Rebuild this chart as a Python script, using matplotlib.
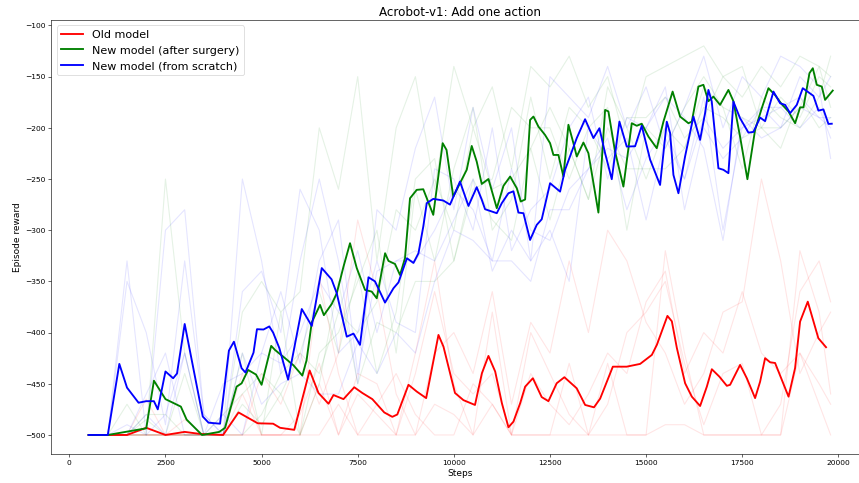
import matplotlib
matplotlib.use('Agg')
import matplotlib.pyplot as plt

# mean curves (steps, reward)
old_x = [500, 1000, 1500, 2000, 2500, 3000, 3400, 4000, 4400, 4900, 5300, 5480, 5850,
         6250, 6480, 6740, 6870, 7130, 7410, 7620, 7880, 8190, 8400, 8530, 8820, 9035,
         9280, 9600, 9730, 10030, 10250, 10550, 10730, 10900, 11075, 11250, 11420, 11550,
         11725, 11855, 12055, 12285, 12460, 12675, 12875, 13195, 13415, 13645, 13805,
         14135, 14495, 14845, 15150, 15280, 15555, 15670, 15800, 16015, 16190, 16405,
         16580, 16710, 16905, 17100, 17185, 17445, 17620, 17835, 17965, 18095, 18225,
         18355, 18705, 18875, 19005, 19205, 19480, 19680]
old_y = [-500, -500, -500, -493, -500, -497, -499, -500, -478, -488.6, -489, -493, -495,
         -437, -459, -469.5, -461, -465, -453.4, -459, -465, -478, -482.3, -480, -451, -457.6,
         -464, -402.3, -413.7, -459, -466, -470.7, -439.7, -422.8, -438, -469, -492.5, -487,
         -469, -452.8, -444.6, -463, -467, -449.5, -443.6, -454.4, -470.7, -473, -464.5,
         -433.3, -433.3, -430.6, -421.8, -412, -383.7, -389, -415, -449.5, -462.6, -471.7,
         -452.8, -435.8, -443, -452, -451, -431.6, -444.6, -464, -448, -425, -429,
         -429.7, -462.6, -434.7, -389.3, -369.8, -405.5, -414.3]

surg_x = [500, 1000, 2000, 2200, 2500, 2900, 3050, 3450, 3900, 4050, 4350, 4480, 4650, 4855,
          5000, 5250, 5350, 5610, 5830, 6060, 6170, 6305, 6520, 6620, 6825, 6955, 7130, 7300,
          7475, 7690, 7865, 7995, 8212, 8300, 8470, 8600, 8730, 8860, 9035, 9205, 9465, 9710,
          9810, 9985, 10200, 10335, 10465, 10595, 10725, 10900, 11117, 11290, 11464, 11637,
          11741, 11854, 11983, 12070, 12200, 12373, 12503, 12590, 12720, 12850, 12980, 13110,
          13197, 13370, 13500, 13760, 13934, 14020, 14193, 14410, 14627, 14757, 14887, 15061,
          15277, 15451, 15690, 15884, 16101, 16188, 16361, 16491, 16621, 16751, 16924, 17141,
          17271, 17444, 17635, 17835, 18009, 18182, 18355, 18529, 18703, 18876, 19006, 19093,
          19249, 19336, 19440, 19569, 19655, 19855]
surg_y = [-500, -500, -493.5, -447, -465, -472.3, -485, -500, -497, -493, -452.8, -449.6, -436.5, -441,
          -451, -413, -417, -425, -432, -442, -427, -390, -373, -383, -372, -361.6, -335.6, -312.7,
          -337, -358.3, -360, -366.5, -322.5, -330, -333, -343.7, -327.4, -268.8, -260.6, -260, -285, -215,
          -221.6, -267.2, -251, -241, -217.7, -233, -254.8, -250, -278.5, -256.7, -247.6, -259,
          -272, -270, -192.3, -189, -198.8, -207, -215, -226.5, -226.5, -247.6, -197, -215,
          -228, -214.4, -224.8, -282.8, -182.5, -184, -223.2, -257.4, -195.5, -198, -196, -208.6,
          -219.9, -194, -164.6, -189, -195.5, -194, -159.7, -158, -174, -169.5, -177.6, -163,
          -174, -208.6, -250.2, -202, -180.8, -161.3, -168, -177, -184, -195.5, -180, -180,
          -146.6, -141.8, -158, -159.7, -172.7, -163.6]

scratch_x = [500, 1000, 1300, 1500, 1800, 2000, 2200, 2300, 2500, 2700, 2800, 3000, 3470, 3620,
             3920, 4150, 4280, 4480, 4580, 4790, 4880, 5050, 5200, 5300, 5460, 5690, 6045, 6305,
             6565, 6820, 6955, 7215, 7390, 7560, 7780, 7950, 8210, 8430, 8560, 8780, 8950, 9080,
             9205, 9295, 9465, 9725, 9900, 10160, 10380, 10595, 10724, 10812, 11117, 11247, 11420,
             11550, 11680, 11810, 11983, 12156, 12286, 12503, 12763, 12893, 13197, 13413, 13630,
             13786, 13934, 14107, 14306, 14497, 14714, 14887, 15104, 15364, 15538, 15624, 15711,
             15841, 16014, 16231, 16404, 16534, 16621, 16708, 16881, 17011, 17141, 17271, 17444,
             17662, 17792, 17965, 18095, 18312, 18486, 18616, 18746, 18919, 19075, 19352, 19482,
             19612, 19742, 19829]
scratch_y = [-500, -500, -430.6, -453.8, -468.5, -467, -467, -475, -438, -444.6, -440, -391.6, -482, -488,
             -489, -417.6, -408.9, -434.8, -439, -419.6, -396.7, -397, -394, -400, -415, -446, -377, -393.5,
             -337, -348, -361.6, -404, -401, -412, -346, -350, -370.7, -356.7, -351, -327.4, -332, -322.5,
             -296.5, -273.6, -269.4, -271, -275, -252.5, -276.3, -258, -270, -279.5, -283.4, -273.6, -263.9,
             -262, -282.8, -283.4, -309.5, -294.8, -289.3, -254.1, -262.3, -241, -210, -191.6, -210,
             -200.4, -224.8, -250.2, -193.9, -218.3, -218, -198, -231, -255.8, -194, -205, -246,
             -263.9, -228, -189, -211.8, -185.7, -163, -174.4, -239.5, -241, -244.3, -174.4, -190.6,
             -204.7, -204, -190, -193.5, -164.6, -176, -177.6, -185.7, -177.6, -161.3, -168.8, -183.2,
             -182, -196.2, -196]

# individual runs (faint lines), every 500 steps
run_steps = list(range(500, 20000, 500)) + [19800]

old_runs = [
    [-500, -500, -500, -500, -500, -500, -500, -500, -460, -500, -500, -500, -345, -440, -500, -500, -500, -420, -330, -450,
     -500, -380, -500, -500, -500, -430, -500, -500, -500, -500, -320, -420, -500, -500, -500, -500, -500, -320, -380, -460],
    [-500, -500, -500, -500, -500, -500, -500, -500, -500, -440, -470, -420, -470, -420, -290, -360, -460, -500, -420, -400,
     -440, -360, -470, -390, -420, -330, -400, -300, -330, -390, -420, -470, -440, -380, -370, -250, -330, -440, -400, -380],
    [-500, -500, -500, -465, -500, -485, -500, -500, -440, -500, -500, -480, -430, -500, -460, -480, -500, -440, -360, -440,
     -460, -440, -500, -400, -440, -480, -500, -470, -400, -380, -350, -430, -490, -440, -430, -500, -470, -360, -330, -370],
    [-500, -500, -500, -500, -500, -500, -500, -500, -500, -500, -500, -500, -500, -470, -500, -470, -440, -480, -500, -500,
     -450, -470, -500, -440, -470, -490, -460, -420, -440, -370, -340, -440, -400, -420, -360, -420, -440, -420, -470, -500],
    [-500, -500, -500, -500, -500, -500, -500, -500, -500, -500, -500, -500, -450, -500, -440, -450, -500, -500, -470, -480,
     -500, -470, -500, -500, -500, -500, -500, -430, -500, -500, -490, -490, -500, -500, -500, -500, -500, -420, -450, -470],
]
surg_runs = [
    [-500, -500, -470, -500, -250, -420, -500, -500, -380, -350, -380, -360, -200, -260, -150, -330, -200, -150, -260, -140,
     -200, -160, -240, -140, -160, -130, -180, -150, -220, -150, -140, -130, -120, -150, -170, -140, -160, -130, -140, -150],
    [-500, -500, -500, -480, -480, -500, -500, -500, -420, -500, -380, -500, -420, -400, -350, -300, -420, -260, -330, -240,
     -180, -300, -270, -170, -250, -180, -200, -180, -300, -200, -220, -180, -150, -180, -190, -200, -170, -190, -150, -160],
    [-500, -500, -500, -500, -500, -440, -500, -500, -500, -480, -440, -420, -440, -380, -400, -370, -280, -300, -250, -300,
     -200, -260, -250, -220, -180, -220, -270, -160, -200, -250, -200, -220, -160, -180, -240, -170, -190, -200, -170, -130],
    [-500, -500, -500, -500, -500, -500, -500, -480, -460, -440, -460, -420, -360, -420, -340, -440, -380, -250, -230, -330,
     -260, -250, -180, -200, -200, -250, -200, -240, -190, -190, -170, -210, -190, -150, -140, -200, -220, -170, -200, -190],
    [-500, -500, -500, -485, -500, -500, -500, -500, -470, -490, -460, -500, -450, -350, -450, -390, -400, -350, -350, -330,
     -250, -290, -310, -220, -290, -220, -270, -200, -240, -240, -240, -220, -180, -190, -210, -200, -200, -180, -140, -180],
]
scratch_runs = [
    [-500, -500, -330, -500, -300, -280, -480, -500, -250, -330, -440, -330, -250, -330, -450, -280, -300, -220, -170, -280,
     -180, -260, -200, -330, -150, -170, -190, -140, -200, -160, -220, -180, -130, -200, -150, -170, -130, -140, -160, -230],
    [-500, -500, -350, -400, -490, -330, -480, -500, -360, -340, -400, -260, -300, -420, -400, -330, -390, -400, -240, -250,
     -300, -200, -320, -280, -260, -200, -170, -250, -190, -200, -160, -280, -200, -230, -210, -180, -200, -150, -170, -150],
    [-500, -500, -500, -460, -420, -500, -500, -450, -440, -420, -430, -400, -350, -380, -320, -400, -330, -330, -300, -260,
     -280, -330, -240, -300, -310, -260, -240, -220, -230, -200, -170, -190, -220, -310, -190, -210, -200, -180, -190, -190],
    [-500, -500, -500, -480, -500, -420, -500, -480, -500, -420, -360, -430, -330, -290, -440, -340, -330, -320, -330, -290,
     -250, -340, -300, -330, -300, -350, -200, -230, -210, -290, -210, -250, -170, -300, -200, -190, -180, -200, -180, -210],
    [-500, -500, -490, -500, -480, -420, -500, -500, -420, -470, -450, -440, -460, -460, -410, -440, -400, -420, -350, -300,
     -310, -330, -330, -350, -280, -280, -240, -210, -280, -230, -200, -250, -190, -220, -200, -180, -180, -170, -190, -200],
]

fig = plt.figure(figsize=(16, 9))
ax = fig.add_axes([0.0594, 0.0600, 0.9523, 0.8986])

for run in old_runs:
    ax.plot(run_steps, run, color='r', alpha=0.1)
for run in surg_runs:
    ax.plot(run_steps, run, color='g', alpha=0.1)
for run in scratch_runs:
    ax.plot(run_steps, run, color='b', alpha=0.1)

ax.plot(old_x, old_y, color='r', lw=2.5, label='Old model')
ax.plot(surg_x, surg_y, color='g', lw=2.5, label='New model (after surgery)')
ax.plot(scratch_x, scratch_y, color='b', lw=2.5, label='New model (from scratch)')

ax.set_xlim(-476, 20804)
ax.set_ylim(-518.6, -94.4)
ax.set_title('Acrobot-v1: Add one action', fontsize=16)
ax.set_xlabel('Steps', fontsize=12)
ax.set_ylabel('Episode reward', fontsize=12)
ax.legend(loc='upper left', fontsize=15)

fig.savefig('out.png', dpi=53.7)
